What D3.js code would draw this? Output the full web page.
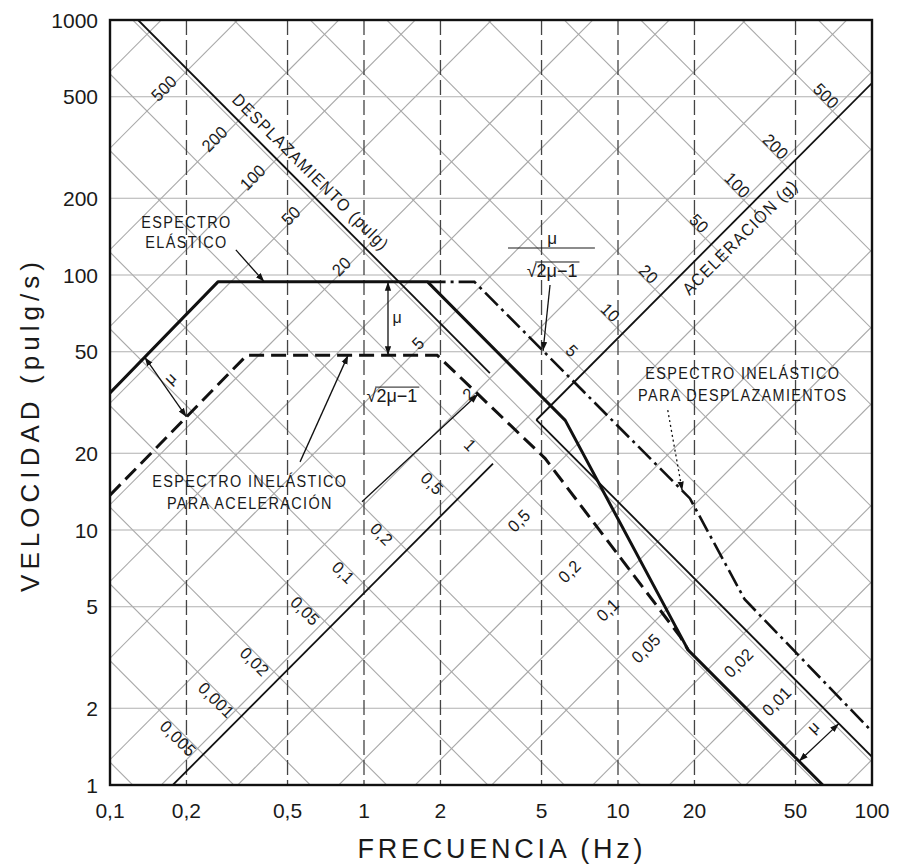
<!DOCTYPE html>
<html><head><meta charset="utf-8">
<script src="https://cdn.jsdelivr.net/npm/d3@7/dist/d3.min.js"></script>
<style>body{margin:0;background:#fff}svg{display:block}</style>
</head><body>
<svg id="c" width="898" height="868"></svg>
<script>
// ---------- data ----------
const xTicks = [0.1, 0.2, 0.5, 1, 2, 5, 10, 20, 50, 100];
const xTickText = ["0,1", "0,2", "0,5", "1", "2", "5", "10", "20", "50", "100"];
const yTicks = [1, 2, 5, 10, 20, 50, 100, 200, 500, 1000];
const yTickText = ["1", "2", "5", "10", "20", "50", "100", "200", "500", "1000"];
const dispGrid = [0.001, 0.002, 0.005, 0.01, 0.02, 0.05, 0.1, 0.2, 0.5, 1, 2, 5, 10, 20, 50, 100, 200, 500, 1000, 2000];
const accGrid = [0.001, 0.002, 0.005, 0.01, 0.02, 0.05, 0.1, 0.2, 0.5, 1, 2, 5, 10, 20, 50, 100, 200, 500, 1000, 2000];
// spectra: [frequency Hz, velocity in/s]
const elastic = [[0.1, 34.5], [0.266, 94], [1.78, 94], [6.2, 26.9], [18.9, 3.38], [64, 1]];
const inelasticAcc = [[0.1, 13.7], [0.346, 48.5], [1.94, 48.5], [5.16, 19.1], [17.5, 3.84], [18.9, 3.38]];
const inelasticDisp = [[1.78, 94], [2.72, 94], [19.2, 13.3], [31.5, 5.35], [100, 1.62]];
// scale axes (displacement axis: V*f = const ; acceleration axis: V/f = const)
const dispAxisVF = 129;
const accAxisVperF = 5.66;
const dispAxisUpperF = [0.129, 3.13];
const dispAxisLowerF = [4.77, 100];
const accAxisLowerF = [0.1767, 3.22];
const accAxisUpperF = [4.77, 100];
// value labels on the axes
const dispLabelsUpper = [500, 200, 100, 50, 20, 5, 2];
const dispLabelsLowerA = [0.5, 0.2, 0.1, 0.05];
const dispLabelsLowerB = [0.02, 0.01];
const accLabelsLower = [0.005, 0.01, 0.02, 0.05, 0.1, 0.2, 0.5, 1];
const accLabelsLowerText = ["0,005", "0,001", "0,02", "0,05", "0,1", "0,2", "0,5", "1"];
const accLabelsUpper = [5, 10, 20, 50, 100, 200, 500];
const G = 386.1; // in/s^2 per g

// ---------- setup ----------
const W = 898, H = 868;
const x = d3.scaleLog().domain([0.1, 100]).range([110, 872]);
const y = d3.scaleLog().domain([1, 1000]).range([785, 20]);
const [X0, X1] = x.range(), [Y0, Y1] = y.range();
const svg = d3.select("#c");
svg.append("rect").attr("width", W).attr("height", H).attr("fill", "#fff");
const defs = svg.append("defs");
defs.append("clipPath").attr("id", "clip").append("rect")
  .attr("x", X0).attr("y", Y1).attr("width", X1 - X0).attr("height", Y0 - Y1);
defs.append("marker").attr("id", "arr").attr("viewBox", "0 0 10 10")
  .attr("refX", 10).attr("refY", 5).attr("markerWidth", 9).attr("markerHeight", 9)
  .attr("markerUnits", "userSpaceOnUse").attr("orient", "auto-start-reverse")
  .append("path").attr("d", "M0,1.5 L10,5 L0,8.5 Z").attr("fill", "#111");

const line = d3.line().x(d => x(d[0])).y(d => y(d[1]));
const fmt = v => String(v).replace(".", ",");
function interp(s, f) {
  for (let i = 0; i < s.length - 1; i++) {
    const [f0, v0] = s[i], [f1, v1] = s[i + 1];
    if (f >= f0 && f <= f1) {
      const t = Math.log(f / f0) / Math.log(f1 / f0);
      return Math.exp(Math.log(v0) + t * Math.log(v1 / v0));
    }
  }
  return NaN;
}
const FONT = "'Liberation Sans', Arial, sans-serif";
function label(g, txt, px, py, rot, size, sx, ls) {
  return g.append("text").attr("transform", `translate(${px},${py}) rotate(${rot}) scale(${sx},1)`)
    .attr("text-anchor", "middle").attr("dy", "0.36em")
    .attr("font-family", FONT).attr("font-size", size)
    .attr("letter-spacing", ls).attr("fill", "#1a1a1a").text(txt);
}

// ---------- grid ----------
const grid = svg.append("g").attr("clip-path", "url(#clip)");
grid.selectAll(".dg").data(dispGrid).join("path")
  .attr("d", D => line([[0.1, 2 * Math.PI * 0.1 * D], [100, 2 * Math.PI * 100 * D]]))
  .attr("stroke", "#a8a8a8").attr("stroke-width", 1.1).attr("fill", "none");
grid.selectAll(".ag").data(accGrid).join("path")
  .attr("d", A => line([[0.1, G * A / (2 * Math.PI * 0.1)], [100, G * A / (2 * Math.PI * 100)]]))
  .attr("stroke", "#a8a8a8").attr("stroke-width", 1.1).attr("fill", "none");
grid.selectAll(".hg").data(yTicks.slice(1, -1)).join("line")
  .attr("x1", X0).attr("x2", X1).attr("y1", d => y(d)).attr("y2", d => y(d))
  .attr("stroke", "#b0b0b0").attr("stroke-width", 1.1);
grid.selectAll(".vg").data(xTicks.slice(1, -1)).join("line")
  .attr("x1", d => x(d)).attr("x2", d => x(d)).attr("y1", Y1).attr("y2", Y0)
  .attr("stroke", "#444").attr("stroke-width", 1.3).attr("stroke-dasharray", "15,5");

// ---------- scale axes ----------
const axes = svg.append("g").attr("clip-path", "url(#clip)")
  .attr("stroke", "#111").attr("stroke-width", 1.8).attr("fill", "none");
[dispAxisUpperF, dispAxisLowerF].forEach(r =>
  axes.append("path").attr("d", line(r.map(f => [f, dispAxisVF / f]))));
[accAxisLowerF, accAxisUpperF].forEach(r =>
  axes.append("path").attr("d", line(r.map(f => [f, accAxisVperF * f]))));

// ---------- axis value labels ----------
const lab = svg.append("g");
function dispPt(D) { const f = Math.sqrt(dispAxisVF / (2 * Math.PI * D)); return [x(f), y(2 * Math.PI * f * D)]; }
function accPt(A) { const f = Math.sqrt(G * A / (2 * Math.PI * accAxisVperF)); return [x(f), y(accAxisVperF * f)]; }
const LS = 17, LSX = 0.95;
dispLabelsUpper.forEach(D => { const [px, py] = dispPt(D); label(lab, fmt(D), px - 24, py + 18, -45, LS, LSX, 0.5); });
dispLabelsLowerA.forEach(D => { const [px, py] = dispPt(D); label(lab, fmt(D), px - 50, py + 68, -45, LS, LSX, 0.5); });
dispLabelsLowerB.forEach(D => { const [px, py] = dispPt(D); label(lab, fmt(D), px - 8, py + 32, -45, LS, LSX, 0.5); });
accLabelsLower.forEach((A, i) => { const [px, py] = accPt(A); label(lab, accLabelsLowerText[i], px - 25, py - 16, 45, LS, LSX, 0.5); });
accLabelsUpper.forEach(A => { const [px, py] = accPt(A); label(lab, fmt(A), px - 12, py - 21, 45, LS, LSX, 0.5); });
label(lab, "DESPLAZAMIENTO (pulg)", x(0.618), y(253.6), 45, 17, 0.92, 1.4);
label(lab, "ACELERACIÓN (g)", x(30.2), y(141), -45, 17, 0.92, 1.4);

// ---------- spectra ----------
const sp = svg.append("g").attr("clip-path", "url(#clip)").attr("fill", "none").attr("stroke", "#111");
sp.append("path").attr("d", line(inelasticDisp)).attr("stroke-width", 2.6).attr("stroke-dasharray", "18,5,3,5");
sp.append("path").attr("d", line(inelasticAcc)).attr("stroke-width", 3).attr("stroke-dasharray", "15,7");
sp.append("path").attr("d", line(elastic)).attr("stroke-width", 3).attr("stroke-linejoin", "round");

// ---------- annotations ----------
const an = svg.append("g");
function arrow(p0, p1, both, extra) {
  const l = an.append("line").attr("x1", x(p0[0])).attr("y1", y(p0[1])).attr("x2", x(p1[0])).attr("y2", y(p1[1]))
    .attr("stroke", "#111").attr("stroke-width", 1.3).attr("marker-end", "url(#arr)");
  if (both) l.attr("marker-start", "url(#arr)");
  if (extra) l.attr("stroke-dasharray", extra);
  return l;
}
label(an, "ESPECTRO", x(0.2), y(162), 0, 17, 0.85, 1.6);
label(an, "ELÁSTICO", x(0.2), y(134.7), 0, 17, 0.85, 1.6);
arrow([0.313, 125.4], [0.405, interp(elastic, 0.405)]);
arrow([0.137, interp(elastic, 0.137)], [0.2, interp(inelasticAcc, 0.2)], true);
label(an, "μ", x(0.172), y(39.4), -45, 16, 1, 0);
arrow([1.243, interp(elastic, 1.243)], [1.243, interp(inelasticAcc, 1.243)], true);
label(an, "μ", x(1.35), y(68.4), 0, 16, 1, 0);
label(an, "ESPECTRO INELÁSTICO", x(0.3554), y(15.6), 0, 17, 0.85, 1.6);
label(an, "PARA ACELERACIÓN", x(0.3554), y(12.8), 0, 17, 0.85, 1.6);
arrow([0.56, 18.5], [0.866, interp(inelasticAcc, 0.866)]);
arrow([0.982, 12.9], [2.81, interp(inelasticAcc, 2.81)]);
function sqrtLabel(cx, cy, size) {
  const g = an.append("g").attr("transform", `translate(${cx},${cy})`);
  const t = g.append("text").attr("text-anchor", "middle").attr("dy", "0.36em")
    .attr("font-family", FONT).attr("font-size", size).attr("fill", "#1a1a1a");
  t.append("tspan").text("√");
  t.append("tspan").text("2μ−1");
  const bb = t.node().getBBox();
  g.append("line").attr("x1", bb.x + size * 0.48).attr("x2", bb.x + bb.width + 2)
    .attr("y1", bb.y + 1.5).attr("y2", bb.y + 1.5).attr("stroke", "#1a1a1a").attr("stroke-width", 1);
  return g;
}
sqrtLabel(x(1.288), y(33.8), 18);
label(an, "μ", x(5.5), y(139.6), 0, 17, 1, 0);
an.append("line").attr("x1", x(3.69)).attr("x2", x(8.11)).attr("y1", y(127.6)).attr("y2", y(127.6))
  .attr("stroke", "#1a1a1a").attr("stroke-width", 1.2);
sqrtLabel(x(5.5), y(104.6), 18);
arrow([5.4, 91.4], [5.07, interp(inelasticDisp, 5.07)]);
label(an, "ESPECTRO INELÁSTICO", x(31.0), y(41.3), 0, 17, 0.85, 1.6);
label(an, "PARA DESPLAZAMIENTOS", x(31.0), y(33.8), 0, 17, 0.85, 1.6);
arrow([15.7, 29.5], [17.9, interp(inelasticDisp, 17.9)], false, "2,3");
arrow([51.6, interp(elastic, 51.6)], [74.1, dispAxisVF / 74.1], true);
label(an, "μ", x(58.6), y(1.69), -45, 16, 1, 0);

// ---------- frame & ticks ----------
svg.append("rect").attr("x", X0).attr("y", Y1).attr("width", X1 - X0).attr("height", Y0 - Y1)
  .attr("fill", "none").attr("stroke", "#111").attr("stroke-width", 2.4);
svg.append("g").selectAll("text").data(yTicks).join("text")
  .attr("x", X0 - 12).attr("y", d => y(d)).attr("dy", "0.36em").attr("text-anchor", "end")
  .attr("font-family", FONT).attr("font-size", 21).attr("fill", "#1a1a1a")
  .text((d, i) => yTickText[i]);
svg.append("g").selectAll("text").data(xTicks).join("text")
  .attr("x", d => x(d)).attr("y", Y0 + 33).attr("text-anchor", "middle")
  .attr("font-family", FONT).attr("font-size", 21).attr("fill", "#1a1a1a")
  .text((d, i) => xTickText[i]);
svg.append("text").attr("x", 500).attr("y", 858).attr("text-anchor", "middle")
  .attr("font-family", FONT).attr("font-size", 27).attr("fill", "#1a1a1a")
  .attr("textLength", 285).attr("lengthAdjust", "spacing").text("FRECUENCIA (Hz)");
svg.append("text").attr("transform", "translate(39,427) rotate(-90)").attr("text-anchor", "middle")
  .attr("font-family", FONT).attr("font-size", 26).attr("fill", "#1a1a1a")
  .attr("textLength", 330).attr("lengthAdjust", "spacing").text("VELOCIDAD (pulg/s)");
</script>
</body></html>
